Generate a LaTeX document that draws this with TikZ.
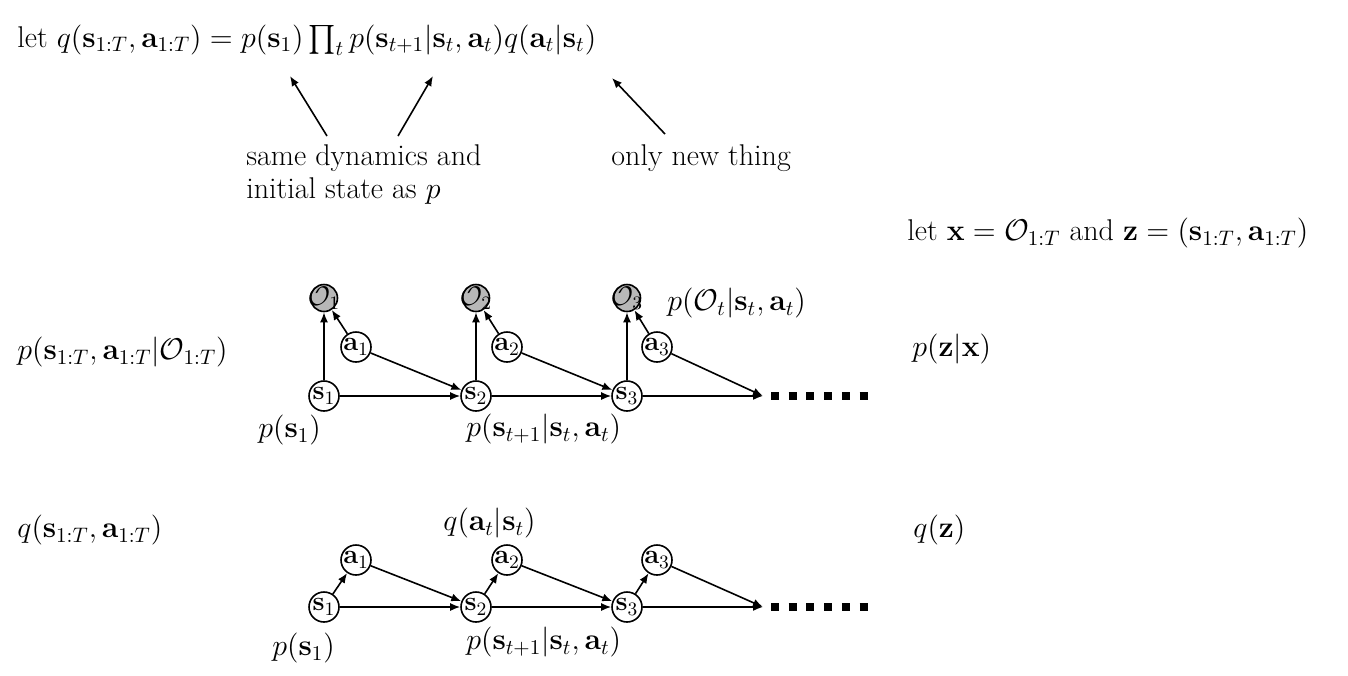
\RequirePackage{fix-cm}
\documentclass[tikz,border=0pt]{standalone}
\usepackage{amsmath}
\usetikzlibrary{arrows.meta}
\begin{document}
\begin{tikzpicture}[x=0.5pt,y=-0.5pt,
  font=\fontsize{15}{16}\selectfont,
  var/.style={circle,draw,line width=0.8pt,minimum size=15pt,inner sep=0pt,fill=white,font=\fontsize{13.5}{14}\selectfont},
  obs/.style={var,fill=black!28,minimum size=13.5pt},
  arr/.style={line width=0.8pt,-{Latex[length=5pt,width=4pt]}},
  txt/.style={anchor=west,inner sep=0pt},
  btxt/.style={anchor=base west,inner sep=0pt},
  dots/.style={line width=4pt,dash pattern=on 4pt off 4.85pt}]
\useasboundingbox (0,0) rectangle (1348,675);

% top equation and notes
\node[txt] (eq) at (17,40) {let $q(\mathbf{s}_{1:T},\mathbf{a}_{1:T}) = p(\mathbf{s}_1)\prod_t p(\mathbf{s}_{t+1}|\mathbf{s}_t,\mathbf{a}_t)q(\mathbf{a}_t|\mathbf{s}_t)$};
\node[btxt] (same) at (246,165) {same dynamics and};
\node[btxt] (init) at (246,198) {initial state as $p$};
\node[btxt] (only) at (611,165) {only new thing};
\coordinate (h1) at (290,76);
\coordinate (t1) at (327,136);
\coordinate (h2) at (433,76);
\coordinate (t2) at (398,136);
\coordinate (h3) at (612,78);
\coordinate (t3) at (665,134);
\draw[arr] (t1) -- (h1);
\draw[arr] (t2) -- (h2);
\draw[arr] (t3) -- (h3);

\node[txt] (letx) at (907,233) {let $\mathbf{x}=\mathcal{O}_{1:T}$ and $\mathbf{z}=(\mathbf{s}_{1:T},\mathbf{a}_{1:T})$};

% left/right labels
\node[txt] (post) at (17,352) {$p(\mathbf{s}_{1:T},\mathbf{a}_{1:T}|\mathcal{O}_{1:T})$};
\node[txt] (pzx) at (912,349) {$p(\mathbf{z}|\mathbf{x})$};
\node[txt] (qsa) at (17,530) {$q(\mathbf{s}_{1:T},\mathbf{a}_{1:T})$};
\node[txt] (qz) at (913,530) {$q(\mathbf{z})$};

% top graph
\node[obs] (O1) at (324,298) {\makebox[0pt]{$\mathcal{O}_1$}};
\node[obs] (O2) at (476,298) {\makebox[0pt]{$\mathcal{O}_2$}};
\node[obs] (O3) at (627,298) {\makebox[0pt]{$\mathcal{O}_3$}};
\node[var] (a1) at (356,347) {\makebox[0pt]{$\mathbf{a}_1$}};
\node[var] (a2) at (507,347) {\makebox[0pt]{$\mathbf{a}_2$}};
\node[var] (a3) at (657,347) {\makebox[0pt]{$\mathbf{a}_3$}};
\node[var] (s1) at (324,396) {\makebox[0pt]{$\mathbf{s}_1$}};
\node[var] (s2) at (476,396) {\makebox[0pt]{$\mathbf{s}_2$}};
\node[var] (s3) at (627,396) {\makebox[0pt]{$\mathbf{s}_3$}};
\coordinate (e1) at (763,396);
\coordinate (d1a) at (771,396);
\coordinate (d1b) at (868,396);
\draw[arr] (s1) -- (O1);
\draw[arr] (s2) -- (O2);
\draw[arr] (s3) -- (O3);
\draw[arr] (a1) -- (O1);
\draw[arr] (a2) -- (O2);
\draw[arr] (a3) -- (O3);
\draw[arr] (s1) -- (s2);
\draw[arr] (s2) -- (s3);
\draw[arr] (s3) -- (e1);
\draw[arr] (a1) -- (s2);
\draw[arr] (a2) -- (s3);
\draw[arr] (a3) -- (e1);
\draw[dots] (d1a) -- (d1b);
\node[txt] (pO) at (667,303) {$p(\mathcal{O}_t|\mathbf{s}_t,\mathbf{a}_t)$};
\node[txt] (ps1) at (258,430) {$p(\mathbf{s}_1)$};
\node[txt] (pdyn1) at (466,429) {$p(\mathbf{s}_{t+1}|\mathbf{s}_t,\mathbf{a}_t)$};

% bottom graph
\node[var] (qa1) at (356,560) {\makebox[0pt]{$\mathbf{a}_1$}};
\node[var] (qa2) at (507,560) {\makebox[0pt]{$\mathbf{a}_2$}};
\node[var] (qa3) at (657,560) {\makebox[0pt]{$\mathbf{a}_3$}};
\node[var] (qs1) at (324,607) {\makebox[0pt]{$\mathbf{s}_1$}};
\node[var] (qs2) at (476,607) {\makebox[0pt]{$\mathbf{s}_2$}};
\node[var] (qs3) at (627,607) {\makebox[0pt]{$\mathbf{s}_3$}};
\coordinate (e2) at (763,607);
\coordinate (d2a) at (771,607);
\coordinate (d2b) at (868,607);
\draw[arr] (qs1) -- (qa1);
\draw[arr] (qs2) -- (qa2);
\draw[arr] (qs3) -- (qa3);
\draw[arr] (qs1) -- (qs2);
\draw[arr] (qs2) -- (qs3);
\draw[arr] (qs3) -- (e2);
\draw[arr] (qa1) -- (qs2);
\draw[arr] (qa2) -- (qs3);
\draw[arr] (qa3) -- (e2);
\draw[dots] (d2a) -- (d2b);
\node[txt] (qas) at (443,523) {$q(\mathbf{a}_t|\mathbf{s}_t)$};
\node[txt] (ps2) at (272,648) {$p(\mathbf{s}_1)$};
\node[txt] (pdyn2) at (466,642) {$p(\mathbf{s}_{t+1}|\mathbf{s}_t,\mathbf{a}_t)$};
\end{tikzpicture}
\end{document}
